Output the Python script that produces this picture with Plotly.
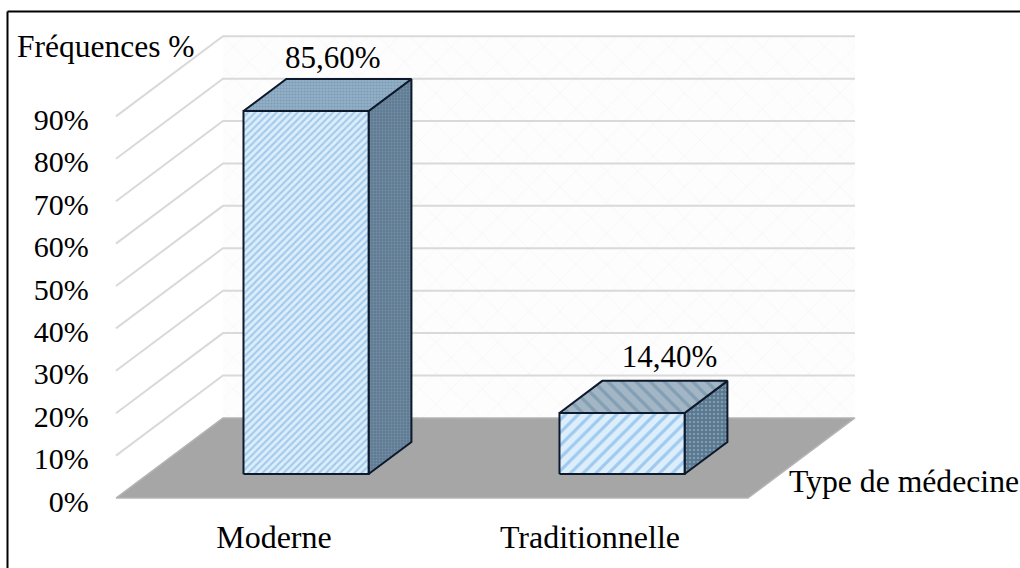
import plotly.graph_objects as go

# --- data ---
categories = ["Moderne", "Traditionnelle"]
values = [85.6, 14.4]
y_ticks = [0, 10, 20, 30, 40, 50, 60, 70, 80, 90]
y_tick_labels = ["0%", "10%", "20%", "30%", "40%", "50%", "60%", "70%", "80%", "90%"]
y_title = "Fréquences %"
x_title = "Type de médecine"

# --- oblique projection of the 3D scene, in axis units ---
DEPTH_X = 0.3386      # category units per full depth
DEPTH_Y = 18.9        # percent units per full depth
HALF_W = 0.198
BAR_FRONT, BAR_BACK = 0.3, 0.7
XMIN, XMAX = -0.5, 1.5
YMAX = y_ticks[-1]
LABEL_DEPTH = [0.55, 0.745]   # hand-placed data labels in the source chart
LABEL_RISE = [0.7, 1.4]


def proj(x, y, d):
    return x + d * DEPTH_X, y + d * DEPTH_Y


def poly(points):
    pts = [proj(*p) for p in points] + [proj(*points[0])]
    return [p[0] for p in pts], [p[1] for p in pts]


fig = go.Figure()


def face(points, fill, line=None, width=0, pattern=None):
    xs, ys = poly(points)
    fig.add_trace(go.Scatter(
        x=xs, y=ys, mode="lines", fill="toself", fillcolor=fill,
        fillpattern=pattern,
        line=dict(color=line or "rgba(0,0,0,0)", width=width),
        hoverinfo="skip", showlegend=False))


# back wall
face([(XMIN, 0, 1), (XMAX, 0, 1), (XMAX, YMAX, 1), (XMIN, YMAX, 1)], "#FFFFFF",
     pattern=dict(shape="x", size=22, solidity=0.04, fgcolor="#E4E4E4", bgcolor="#FDFDFD"))

# gridlines: along the side wall then along the back wall
for t in y_ticks[1:]:
    xs, ys = zip(proj(XMIN, t, 0), proj(XMIN, t, 1), proj(XMAX, t, 1))
    fig.add_trace(go.Scatter(x=list(xs), y=list(ys), mode="lines",
                             line=dict(color="#D9D9D9", width=2),
                             hoverinfo="skip", showlegend=False))

# floor
face([(XMIN, 0, 0), (XMAX, 0, 0), (XMAX, 0, 1), (XMIN, 0, 1)], "#A6A6A6",
     line="#B4B4B4", width=1.5)

# bars
styles = [
    dict(front=dict(shape="/", size=5, solidity=0.42, fgcolor="#6CA6D9", bgcolor="#DCEEFC"),
         top=dict(shape=".", size=3, solidity=0.4, fgcolor="#64849F", bgcolor="#94B0C8"),
         side=dict(shape=".", size=3, solidity=0.35, fgcolor="#8CA3B6", bgcolor="#5F7B93")),
    dict(front=dict(shape="/", size=9, solidity=0.36, fgcolor="#62A6E0", bgcolor="#DCEEFC"),
         top=dict(shape="\\", size=10, solidity=0.34, fgcolor="#64879F", bgcolor="#A3B6C6"),
         side=dict(shape=".", size=4, solidity=0.35, fgcolor="#A9BDCC", bgcolor="#587790")),
]
EDGE = "#0E1A2B"
for i, v in enumerate(values):
    l, r = i - HALF_W, i + HALF_W
    f, b = BAR_FRONT, BAR_BACK
    s = styles[i]
    face([(r, 0, f), (r, 0, b), (r, v, b), (r, v, f)], "#5F7B93", EDGE, 2, s["side"])
    face([(l, v, f), (r, v, f), (r, v, b), (l, v, b)], "#94B0C8", EDGE, 2, s["top"])
    face([(l, 0, f), (r, 0, f), (r, v, f), (l, v, f)], "#DCEEFC", EDGE, 2, s["front"])

# data labels
lx = [proj(i, v, LABEL_DEPTH[i])[0] for i, v in enumerate(values)]
ly = [proj(i, v, BAR_BACK)[1] + LABEL_RISE[i] for i, v in enumerate(values)]
fig.add_trace(go.Scatter(
    x=lx, y=ly, mode="text",
    text=[f"{v:.2f}%".replace(".", ",") for v in values],
    textposition="top center",
    textfont=dict(family="Liberation Serif", size=31, color="#000000"),
    hoverinfo="skip", showlegend=False))

fig.update_layout(
    width=1020, height=568, margin=dict(l=0, r=0, t=0, b=0),
    paper_bgcolor="#FFFFFF", plot_bgcolor="#FFFFFF",
    showlegend=False,
    xaxis=dict(range=[-0.867, 2.361], domain=[0, 1], anchor="free", position=0.0935,
               tickmode="array", tickvals=list(range(len(categories))), ticktext=categories,
               showgrid=False, zeroline=False, showline=False, ticks="",
               tickfont=dict(family="Liberation Serif", size=32, color="#000000")),
    yaxis=dict(range=[-16.5, 117.45], domain=[0, 1], anchor="free", position=0.087,
               tickmode="array", tickvals=y_ticks, ticktext=y_tick_labels,
               ticklabelshift=3,
               showgrid=False, zeroline=False, showline=False, ticks="",
               tickfont=dict(family="Liberation Serif", size=30, color="#000000")),
    annotations=[
        dict(text=y_title, xref="paper", yref="paper", x=15 / 1020, y=1 - 46 / 568,
             xanchor="left", yanchor="middle", showarrow=False,
             font=dict(family="Liberation Serif", size=31.5, color="#000000")),
        dict(text=x_title, xref="paper", yref="paper", x=1021 / 1020, y=1 - 481 / 568,
             xanchor="right", yanchor="middle", showarrow=False,
             font=dict(family="Liberation Serif", size=31.7, color="#000000")),
    ],
    shapes=[
        dict(type="line", xref="paper", yref="paper", x0=7.5 / 1020, x1=7.5 / 1020,
             y0=0, y1=1 - 11.5 / 568, line=dict(color="#000000", width=2)),
        dict(type="line", xref="paper", yref="paper", x0=7.5 / 1020, x1=1,
             y0=1 - 11.5 / 568, y1=1 - 11.5 / 568, line=dict(color="#000000", width=2)),
    ],
)

fig.write_html("out.html", config=dict(displayModeBar=False),
               post_script="document.body.style.margin='0';document.documentElement.style.overflow='hidden';")
